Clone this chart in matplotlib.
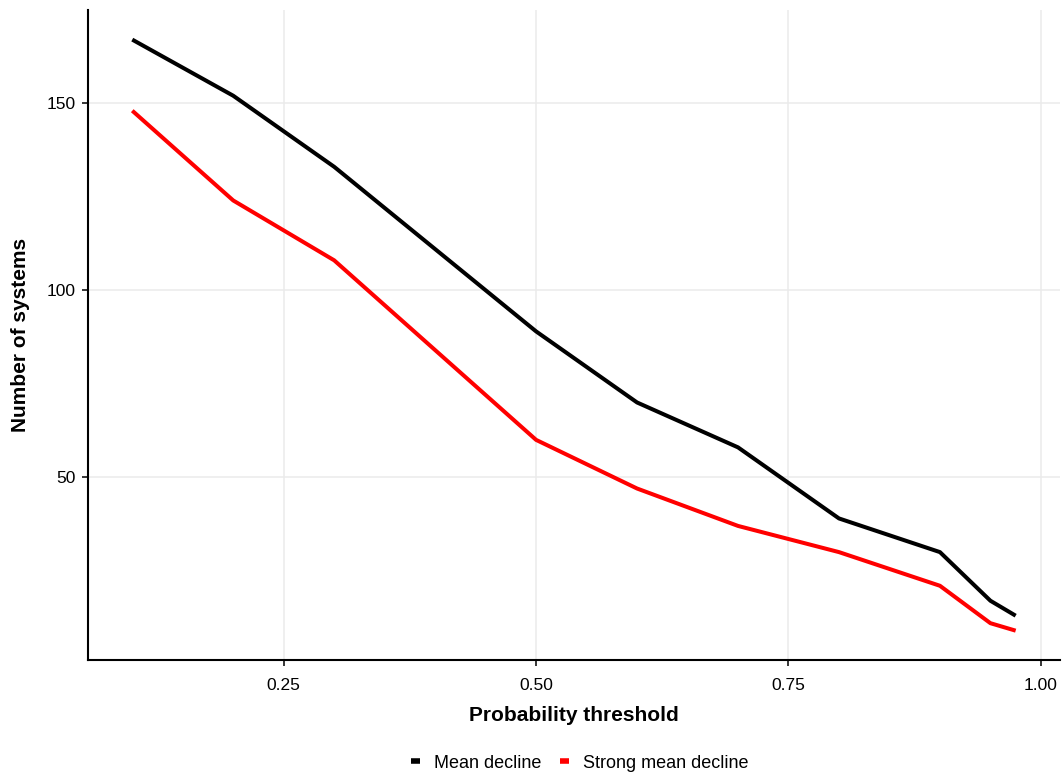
import matplotlib
import matplotlib.pyplot as plt
from matplotlib.lines import Line2D
matplotlib.use("agg")

plt.rcParams["font.family"] = ["Liberation Sans", "DejaVu Sans"]

thresholds = [0.1, 0.2, 0.3, 0.5, 0.6, 0.7, 0.8, 0.9, 0.95, 0.975]
mean_decline = [167, 152, 133, 89, 70, 58, 39, 30, 17, 13]
strong_mean_decline = [148, 124, 108, 60, 47, 37, 30, 21, 11, 9]
series_labels = ["Mean decline", "Strong mean decline"]
series_colors = ["black", "red"]

fig = plt.figure(figsize=(10.62, 7.74), dpi=100)
ax = fig.add_axes([0.083, 0.147, 0.915, 0.84])

for vals, lab, col in zip([mean_decline, strong_mean_decline], series_labels, series_colors):
    ax.plot(thresholds, vals, color=col, lw=2.9, label=lab, solid_capstyle="butt")

ax.set_xlim(0.0563, 1.0188)
ax.set_ylim(1.1, 174.9)
ax.set_xticks([0.25, 0.5, 0.75, 1.0])
ax.set_xticklabels(["0.25", "0.50", "0.75", "1.00"])
ax.set_yticks([50, 100, 150])
ax.grid(True, color="#ebebeb", lw=1.1)
ax.set_axisbelow(True)
for s in ["top", "right"]:
    ax.spines[s].set_visible(False)
for s in ["left", "bottom"]:
    ax.spines[s].set_linewidth(1.5)
ax.tick_params(length=4, width=1.1, labelsize=12.5, colors="black", pad=5)
ax.tick_params(axis="x", pad=9)
ax.set_xlabel("Probability threshold", fontsize=15, fontweight="bold", labelpad=9)
ax.set_ylabel("Number of systems", fontsize=15, fontweight="bold", labelpad=12)

handles = [Line2D([], [], color=c, lw=4, solid_capstyle="butt") for c in series_colors]
fig.legend(handles, series_labels, loc="center", bbox_to_anchor=(0.546, 0.014),
           ncol=2, frameon=False, fontsize=13, handlelength=0.5,
           handletextpad=0.8, columnspacing=1.0)

plt.savefig("out.png", dpi=100)
